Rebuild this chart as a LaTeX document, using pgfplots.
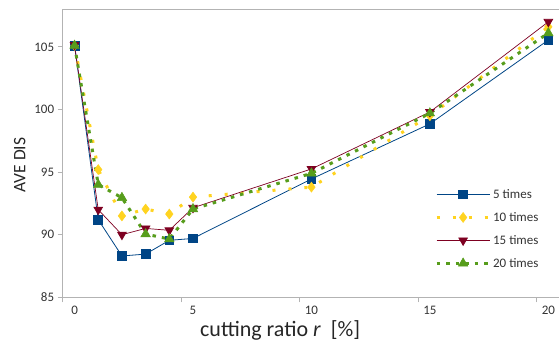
\documentclass[border=0pt]{standalone}
\usepackage{pgfplots}
\pgfplotsset{compat=1.18}
\usepackage{fontspec}
\setmainfont{Carlito}
\definecolor{c5}{HTML}{004586}
\definecolor{c10}{HTML}{FFD320}
\definecolor{c15}{HTML}{7E0021}
\definecolor{c20}{HTML}{579D1C}
\definecolor{axgray}{HTML}{B3B3B3}
\definecolor{txt}{HTML}{333333}
\begin{document}
\begin{tikzpicture}
\begin{axis}[
  at={(0,0)}, anchor=south west,
  scale only axis, width=496.3pt, height=288pt,
  xmin=-0.5, xmax=20.45, ymin=85, ymax=108,
  axis y line=left, axis x line=box,
  axis line style={axgray, line width=0.8pt, -},
  tick align=outside, xtick pos=left, ytick pos=left,
  major tick length=5pt,
  tick style={axgray, line width=0.8pt},
  xtick={-0.5,4.5,9.5,14.5,19.5}, xticklabels={0,5,10,15,20},
  xticklabel style={xshift=11.85pt, font=\fontsize{13}{15}\selectfont, text=txt},
  ytick={85,90,95,100,105},
  yticklabel style={font=\fontsize{13}{15}\selectfont, text=txt},
  /pgf/number format/assume math mode=true,
  xlabel={cutting ratio \textit{r}\ \ [\%]},
  xlabel style={at={(axis description cs:0.438,-0.1135)}, anchor=center, font=\fontsize{22}{25}\selectfont, text=black!85},
  ylabel={AVE DIS},
  ylabel style={at={(axis description cs:-0.0866,0.459)}, anchor=center, rotate=0, font=\fontsize{17.5}{20}\selectfont, text=black!85},
  legend style={draw=none, fill=none, at={(axis description cs:0.750,0.383)}, anchor=north west,
    font=\fontsize{13}{15}\selectfont, text=txt, row sep=8.5pt, inner sep=0pt},
  legend cell align=left,
  legend image code/.code={\draw[mark repeat=2,mark phase=2,#1] plot coordinates {(0pt,0pt) (26.5pt,0pt) (53pt,0pt)};},
]
\addplot[c5, line width=0.8pt, mark=square*, mark size=4.4pt, mark options={solid, fill=c5, draw=c5}]
  coordinates {(0,105.1) (1,91.2) (2,88.3) (3,88.45) (4,89.55) (5,89.7) (10,94.45) (15,98.85) (20,105.55)};
\addlegendentry{5 times}
\addplot[c10, line width=3pt, dash pattern=on 3pt off 13pt, mark=diamond*, mark size=5pt, mark options={solid, fill=c10, draw=c10, line width=0.5pt}]
  coordinates {(0,105.1) (1,95.2) (2,91.5) (3,92.05) (4,91.65) (5,93.0) (10,93.8) (15,99.5) (20,106.6)};
\addlegendentry{10 times}
\addplot[c15, line width=0.7pt, mark=triangle*, mark size=5pt, mark options={solid, rotate=180, fill=c15, draw=c15}]
  coordinates {(0,105.15) (1,92.0) (2,90.0) (3,90.5) (4,90.35) (5,92.15) (10,95.25) (15,99.8) (20,107.0)};
\addlegendentry{15 times}
\addplot[c20, line width=3pt, dash pattern=on 3.5pt off 6pt, mark=triangle*, mark size=5.5pt, mark options={solid, fill=c20, draw=c20, line width=0.5pt}]
  coordinates {(0,105.1) (1,94.0) (2,92.95) (3,90.05) (4,89.65) (5,92.05) (10,94.9) (15,99.7) (20,106.1)};
\addlegendentry{20 times}
\end{axis}
\pgfresetboundingbox
\path (-62.7pt,-47.7pt) rectangle (496.3pt,297.3pt);
\end{tikzpicture}
\end{document}
